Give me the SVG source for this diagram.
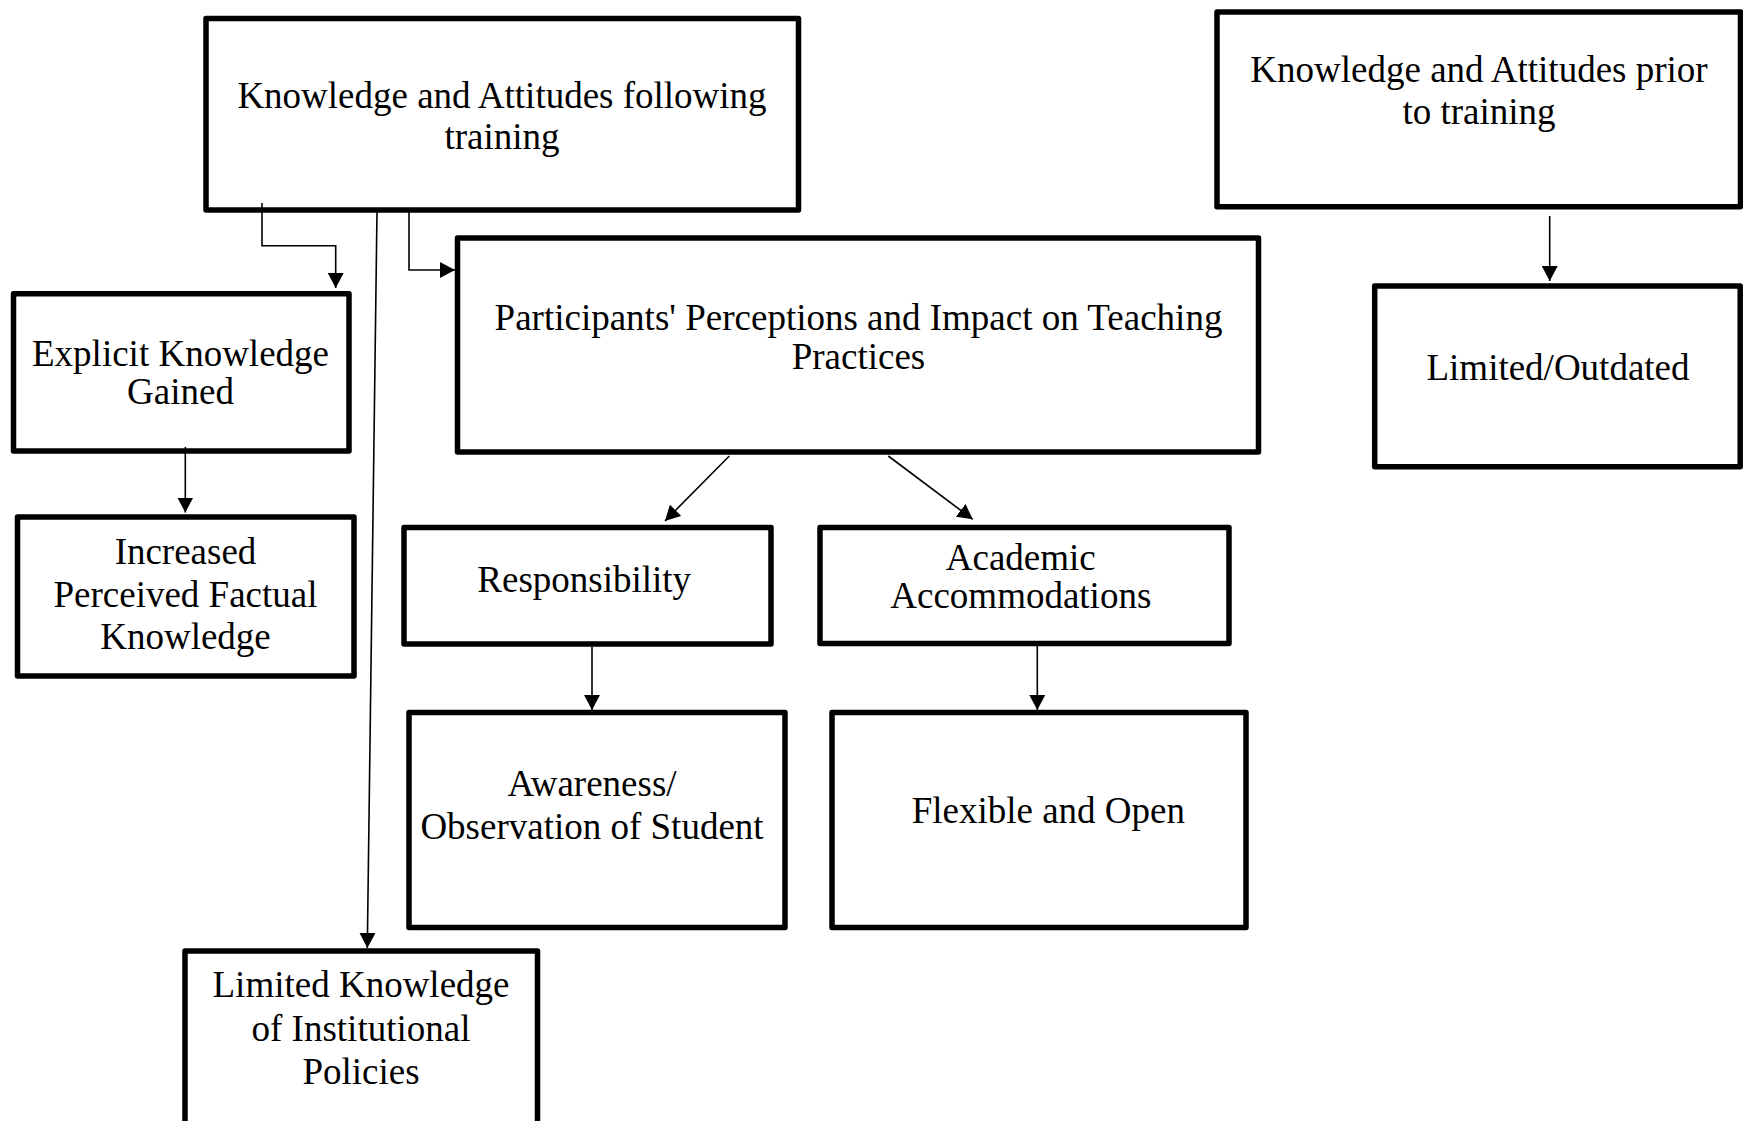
<svg xmlns="http://www.w3.org/2000/svg" width="1743" height="1121" viewBox="0 0 1743 1121">
<style>
.box{fill:#fff;stroke:#000;stroke-width:5.5;stroke-linejoin:round}
.lbl{font-family:"Liberation Serif","Times New Roman",serif;font-size:37px;fill:#000;text-anchor:middle}
.con{fill:none;stroke:#000;stroke-width:1.6}
</style>
<defs>
<marker id="arr" markerUnits="userSpaceOnUse" markerWidth="16" markerHeight="16" refX="15" refY="8" orient="auto" viewBox="0 0 16 16">
<path d="M0,0 L15,8 L0,16 z" fill="#000"/>
</marker>
</defs>
<rect x="0" y="0" width="1743" height="1121" fill="#fff"/>

<g id="n-following">
<rect class="box" x="206" y="18.5" width="592.5" height="191.5"/>
<text class="lbl" x="502" y="108">Knowledge and Attitudes following</text>
<text class="lbl" x="502" y="149">training</text>
</g>

<g id="n-prior">
<rect class="box" x="1217" y="12" width="523.5" height="194.7"/>
<text class="lbl" x="1479" y="81.7">Knowledge and Attitudes prior</text>
<text class="lbl" x="1479" y="124">to training</text>
</g>

<g id="n-outdated">
<rect class="box" x="1374.7" y="286" width="365.5" height="180.7"/>
<text class="lbl" x="1558" y="380">Limited/Outdated</text>
</g>

<g id="n-explicit">
<rect class="box" x="13.5" y="293.7" width="335.5" height="157.3"/>
<text class="lbl" x="180.5" y="366">Explicit Knowledge</text>
<text class="lbl" x="180.5" y="404">Gained</text>
</g>

<g id="n-increased">
<rect class="box" x="17.5" y="517" width="336.5" height="159"/>
<text class="lbl" x="185.5" y="564">Increased</text>
<text class="lbl" x="185.5" y="606.7">Perceived Factual</text>
<text class="lbl" x="185.5" y="649.3">Knowledge</text>
</g>

<g id="n-perceptions">
<rect class="box" x="457.5" y="238" width="801" height="214"/>
<text class="lbl" x="858.5" y="330">Participants' Perceptions and Impact on Teaching</text>
<text class="lbl" x="858.5" y="369.3">Practices</text>
</g>

<g id="n-responsibility">
<rect class="box" x="404" y="527.5" width="367" height="116.5"/>
<text class="lbl" x="584.2" y="591.7">Responsibility</text>
</g>

<g id="n-academic">
<rect class="box" x="820" y="527.5" width="409" height="116"/>
<text class="lbl" x="1020.8" y="570">Academic</text>
<text class="lbl" x="1020.8" y="608.3">Accommodations</text>
</g>

<g id="n-awareness">
<rect class="box" x="409" y="712.5" width="376" height="215"/>
<text class="lbl" x="592" y="796">Awareness/</text>
<text class="lbl" x="592" y="839">Observation of Student</text>
</g>

<g id="n-flexible">
<rect class="box" x="832" y="712.5" width="414" height="215"/>
<text class="lbl" x="1048.3" y="823.3">Flexible and Open</text>
</g>

<g id="n-policies">
<rect class="box" x="185" y="951" width="352.5" height="180"/>
<text class="lbl" x="361" y="996.7">Limited Knowledge</text>
<text class="lbl" x="361" y="1040.7">of Institutional</text>
<text class="lbl" x="361" y="1084">Policies</text>
</g>

<g id="connectors">
<path class="con" d="M262,203 V245.7 H335.7 V288" marker-end="url(#arr)"/>
<path class="con" d="M409,211 V270 H455" marker-end="url(#arr)"/>
<path class="con" d="M377,211 L367.3,948" marker-end="url(#arr)"/>
<path class="con" d="M185.3,447 V512.5" marker-end="url(#arr)"/>
<path class="con" d="M729.3,456 L665,521" marker-end="url(#arr)"/>
<path class="con" d="M888.3,456 L972.7,519.3" marker-end="url(#arr)"/>
<path class="con" d="M592,647 V710" marker-end="url(#arr)"/>
<path class="con" d="M1037.3,646 V710" marker-end="url(#arr)"/>
<path class="con" d="M1549.7,216 V281" marker-end="url(#arr)"/>
</g>
</svg>
